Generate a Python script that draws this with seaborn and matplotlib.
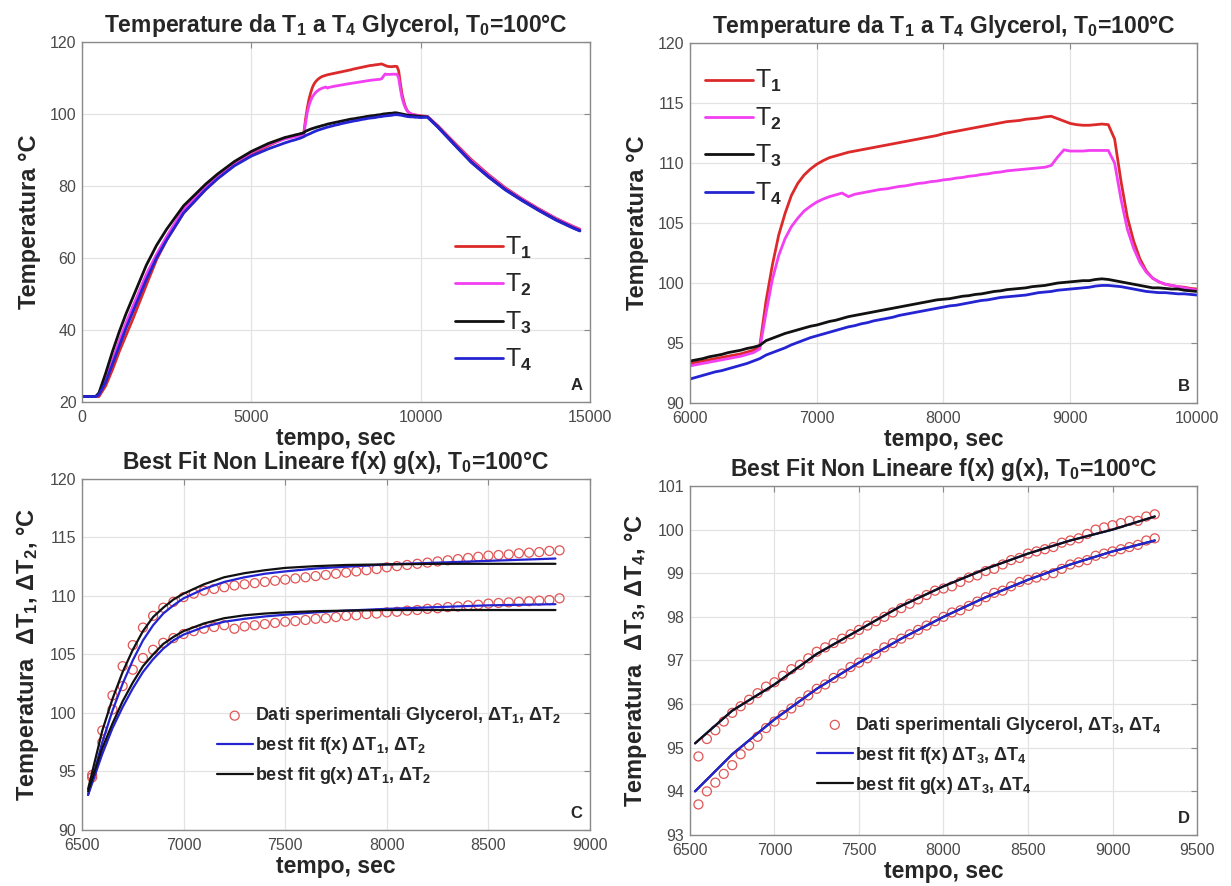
import numpy as np
import pandas as pd
import matplotlib
matplotlib.use("Agg")
import matplotlib.pyplot as plt
import seaborn as sns

# ---- data ----
# panel A: part before the 6000-10000 window and the cooling part after it
t_pre = [0, 400, 500, 700, 900, 1100, 1300, 1500, 1900, 2200, 2500, 3000, 3650, 4000, 4500, 5000, 5500]
T1_pre = [21.5, 21.5, 21.5, 24.5, 29.0, 34.0, 38.5, 43.0, 52.5, 59.5, 65.0, 72.5, 79.0, 82.0, 85.8, 88.9, 91.2]
T2_pre = [21.5, 21.5, 22.0, 26.0, 31.5, 37.0, 42.0, 46.5, 55.5, 61.0, 66.0, 73.5, 80.0, 83.0, 86.5, 89.3, 91.5]
T3_pre = [21.5, 21.5, 22.5, 28.0, 34.0, 39.5, 44.5, 49.0, 58.0, 63.5, 68.0, 74.5, 80.5, 83.3, 86.8, 89.6, 91.8]
T4_pre = [21.5, 21.5, 22.0, 25.5, 30.5, 35.5, 40.5, 45.0, 54.0, 60.0, 65.0, 72.5, 79.0, 82.0, 85.6, 88.3, 90.3]

t_post = [10200, 10500, 11000, 11500, 12000, 12500, 13000, 13500, 14000, 14500, 14700]
T1_post = [99.3, 96.8, 92.0, 87.3, 83.2, 79.5, 76.4, 73.6, 71.0, 68.8, 68.0]
T2_post = [99.3, 96.7, 91.8, 87.0, 83.0, 79.3, 76.3, 73.5, 70.9, 68.7, 67.9]
T3_post = [99.2, 96.5, 91.5, 86.6, 82.6, 79.0, 76.0, 73.2, 70.6, 68.4, 67.6]
T4_post = [99.1, 96.4, 91.4, 86.5, 82.5, 78.9, 75.9, 73.1, 70.5, 68.3, 67.5]

# window 6000-10000 sec (panel B, and the measured points of C and D)
t_win = [6000, 6050, 6100, 6150, 6200, 6250, 6300, 6350, 6400, 6450,
         6500, 6550, 6600, 6650, 6700, 6750, 6800, 6850, 6900, 6950,
         7000, 7050, 7100, 7150, 7200, 7250, 7300, 7350, 7400, 7450,
         7500, 7550, 7600, 7650, 7700, 7750, 7800, 7850, 7900, 7950,
         8000, 8050, 8100, 8150, 8200, 8250, 8300, 8350, 8400, 8450,
         8500, 8550, 8600, 8650, 8700, 8750, 8800, 8850, 8900, 8950,
         9000, 9050, 9100, 9150, 9200, 9250, 9300, 9350, 9400, 9450,
         9500, 9550, 9600, 9650, 9700, 9750, 9800, 9850, 9900, 9950, 10000]
T1_win = [93.3, 93.4, 93.5, 93.6, 93.7, 93.8, 93.9, 94.0, 94.1, 94.25,
          94.4, 94.7, 98.5, 101.5, 104.0, 105.8, 107.3, 108.3, 109.0, 109.5,
          109.9, 110.2, 110.45, 110.6, 110.75, 110.9, 111.0, 111.1, 111.2, 111.3,
          111.4, 111.5, 111.6, 111.7, 111.8, 111.9, 112.0, 112.1, 112.2, 112.3,
          112.45, 112.55, 112.65, 112.75, 112.85, 112.95, 113.05, 113.15, 113.25, 113.35,
          113.45, 113.5, 113.55, 113.65, 113.7, 113.75, 113.85, 113.9, 113.7, 113.5,
          113.3, 113.2, 113.15, 113.15, 113.2, 113.25, 113.2, 112.0, 108.5, 105.5,
          103.5, 102.0, 101.0, 100.4, 100.1, 99.9, 99.8, 99.7, 99.65, 99.55, 99.5]
T2_win = [93.1, 93.2, 93.3, 93.4, 93.5, 93.6, 93.7, 93.8, 93.9, 94.05,
          94.2, 94.5, 97.5, 100.3, 102.3, 103.7, 104.7, 105.4, 106.0, 106.4,
          106.75, 107.0, 107.2, 107.35, 107.5, 107.2, 107.4, 107.5, 107.6, 107.7,
          107.8, 107.85, 107.95, 108.05, 108.1, 108.2, 108.3, 108.35, 108.45, 108.5,
          108.6, 108.65, 108.75, 108.8, 108.9, 108.95, 109.05, 109.1, 109.2, 109.25,
          109.35, 109.4, 109.45, 109.5, 109.55, 109.6, 109.65, 109.8, 110.5, 111.1,
          111.0, 111.0, 111.0, 111.05, 111.05, 111.05, 111.05, 110.0, 107.0, 104.5,
          102.9, 101.7, 100.9, 100.4, 100.1, 99.9, 99.8, 99.7, 99.6, 99.5, 99.4]
T3_win = [93.5, 93.6, 93.7, 93.85, 93.95, 94.05, 94.2, 94.3, 94.4, 94.55,
          94.65, 94.8, 95.2, 95.4, 95.6, 95.8, 95.95, 96.1, 96.25, 96.4,
          96.5, 96.65, 96.8, 96.9, 97.05, 97.2, 97.3, 97.4, 97.5, 97.6,
          97.7, 97.8, 97.9, 98.0, 98.1, 98.2, 98.3, 98.4, 98.5, 98.6,
          98.65, 98.7, 98.8, 98.9, 98.95, 99.05, 99.1, 99.2, 99.3, 99.35,
          99.45, 99.5, 99.55, 99.6, 99.7, 99.75, 99.8, 99.9, 100.0, 100.05,
          100.1, 100.15, 100.2, 100.2, 100.3, 100.35, 100.3, 100.2, 100.1, 100.0,
          99.9, 99.8, 99.7, 99.6, 99.6, 99.55, 99.5, 99.5, 99.4, 99.35, 99.3]
T4_win = [92.0, 92.15, 92.3, 92.45, 92.6, 92.7, 92.85, 93.0, 93.15, 93.3,
          93.5, 93.7, 94.0, 94.2, 94.4, 94.6, 94.85, 95.05, 95.25, 95.45,
          95.6, 95.75, 95.9, 96.05, 96.2, 96.35, 96.45, 96.6, 96.7, 96.85,
          96.95, 97.05, 97.15, 97.3, 97.4, 97.5, 97.6, 97.7, 97.8, 97.9,
          98.0, 98.1, 98.15, 98.25, 98.35, 98.45, 98.55, 98.6, 98.7, 98.8,
          98.85, 98.9, 98.95, 99.0, 99.1, 99.2, 99.25, 99.3, 99.4, 99.45,
          99.5, 99.55, 99.6, 99.65, 99.75, 99.8, 99.8, 99.75, 99.7, 99.6,
          99.5, 99.4, 99.3, 99.25, 99.2, 99.2, 99.15, 99.1, 99.1, 99.05, 99.0]

# nonlinear fits, panel C (T1 upper, T2 lower)
t_fitC = [6530, 6600, 6650, 6700, 6750, 6800, 6850, 6900, 6950, 7000, 7100,
          7200, 7300, 7400, 7500, 7650, 7800, 8000, 8250, 8500, 8830]
f_T1 = [93.0, 97.5, 100.2, 102.5, 104.5, 106.2, 107.5, 108.5, 109.2, 109.8, 110.6,
        111.2, 111.6, 111.9, 112.1, 112.35, 112.5, 112.7, 112.85, 113.0, 113.2]
g_T1 = [93.5, 98.5, 101.2, 103.5, 105.4, 107.0, 108.2, 109.0, 109.7, 110.2, 111.0,
        111.6, 111.95, 112.2, 112.4, 112.55, 112.65, 112.7, 112.75, 112.75, 112.75]
f_T2 = [93.0, 96.5, 98.7, 100.5, 102.1, 103.5, 104.6, 105.5, 106.2, 106.7, 107.35,
        107.8, 108.05, 108.25, 108.4, 108.6, 108.75, 108.9, 109.05, 109.2, 109.3]
g_T2 = [93.3, 97.0, 99.1, 101.0, 102.6, 104.0, 105.0, 105.9, 106.5, 107.0, 107.65,
        108.1, 108.35, 108.5, 108.6, 108.7, 108.75, 108.8, 108.8, 108.8, 108.8]

# nonlinear fits, panel D (T3 upper, T4 lower)
t_fitD = [6530, 6750, 7000, 7250, 7500, 7750, 8000, 8250, 8500, 8750, 9000, 9250]
fit_T3 = [95.1, 95.85, 96.45, 97.15, 97.7, 98.25, 98.7, 99.1, 99.45, 99.75, 100.0, 100.3]
fit_T4 = [94.0, 94.85, 95.65, 96.35, 96.95, 97.5, 98.0, 98.45, 98.85, 99.2, 99.5, 99.75]

RED = "#dc2a2a"
MAG = "#f23ff2"
BLK = "#111111"
BLU = "#2424d2"
PTS = "#e05555"
GRAY = "#4a4a4a"

sns.set_style("whitegrid")
plt.rcParams["font.family"] = ["Liberation Sans", "DejaVu Sans"]
plt.rcParams["mathtext.fontset"] = "custom"
plt.rcParams["mathtext.rm"] = "Liberation Sans"
plt.rcParams["mathtext.bf"] = "Liberation Sans:bold"
plt.rcParams["mathtext.default"] = "rm"

full = pd.DataFrame({
    "t": t_pre + t_win + t_post,
    "T1": T1_pre + T1_win + T1_post,
    "T2": T2_pre + T2_win + T2_post,
    "T3": T3_pre + T3_win + T3_post,
    "T4": T4_pre + T4_win + T4_post,
})
win = pd.DataFrame({"t": t_win, "T1": T1_win, "T2": T2_win, "T3": T3_win, "T4": T4_win})
datC = win[(win.t >= 6530) & (win.t <= 8850)]
datD = win[(win.t >= 6530) & (win.t <= 9250)]

fig = plt.figure(figsize=(12.31, 8.86), dpi=100)
axA = fig.add_axes([0.0666, 0.5463, 0.4127, 0.4063])
axB = fig.add_axes([0.5605, 0.5451, 0.4119, 0.4063])
axC = fig.add_axes([0.0666, 0.0632, 0.4127, 0.3962])
axD = fig.add_axes([0.5605, 0.0576, 0.4119, 0.3939])


def style(ax, letter, xl, yl, xt, yt, title):
    ax.set_xlim(xl)
    ax.set_ylim(yl)
    ax.set_xticks(xt)
    ax.set_yticks(yt)
    ax.grid(True, color="#e3e3e3", linewidth=0.9)
    for s in ax.spines.values():
        s.set_color("#8a8a8a")
        s.set_linewidth(1.0)
    ax.tick_params(direction="in", length=4, color="#8a8a8a", labelcolor=GRAY,
                   labelsize=11.5, top=True, right=True)
    ax.tick_params(axis="x", pad=6)
    ax.tick_params(axis="y", pad=4)
    ax.set_xlabel("tempo, sec", fontsize=16.5, fontweight="bold", labelpad=1)
    ax.set_title(title, fontsize=16.5, fontweight="bold", pad=7)
    ax.text(0.985, 0.025, letter, transform=ax.transAxes, ha="right", va="bottom",
            fontsize=12, fontweight="bold")


title_AB = r"Temperature da T$_\mathbf{1}$ a T$_\mathbf{4}$ Glycerol, T$_\mathbf{0}$=100°C"
title_CD = r"Best Fit Non Lineare f(x) g(x), T$_\mathbf{0}$=100°C"
sub = r"$_\mathbf{%d}$"
big_leg = dict(frameon=False, fontsize=18, handlelength=1.9, handletextpad=0.1,
               labelspacing=0.45, borderpad=0.0, borderaxespad=0.0)
fit_leg = dict(frameon=False, prop={"size": 13, "weight": "bold"}, handlelength=2.0,
               handletextpad=0.1, labelspacing=0.5, borderpad=0.0, borderaxespad=0.0)

# --- A ---
for col, c in zip(["T1", "T2", "T3", "T4"], [RED, MAG, BLK, BLU]):
    sns.lineplot(data=full, x="t", y=col, ax=axA, color=c, linewidth=2.0,
                 estimator=None, sort=False, label="T" + sub % int(col[1]))
style(axA, "A", (0, 15000), (20, 120), [0, 5000, 10000, 15000], range(20, 121, 20), title_AB)
axA.set_ylabel("Temperatura °C", fontsize=17, fontweight="bold", labelpad=6)
axA.legend(loc="upper left", bbox_to_anchor=(0.735, 0.465), **big_leg)

# --- B ---
for col, c in zip(["T1", "T2", "T3", "T4"], [RED, MAG, BLK, BLU]):
    sns.lineplot(data=win, x="t", y=col, ax=axB, color=c, linewidth=2.0,
                 estimator=None, sort=False, label="T" + sub % int(col[1]))
style(axB, "B", (6000, 10000), (90, 120), range(6000, 10001, 1000), range(90, 121, 5), title_AB)
axB.set_ylabel("Temperatura °C", fontsize=17, fontweight="bold", labelpad=6)
axB.legend(loc="upper left", bbox_to_anchor=(0.03, 0.93), **big_leg)

# --- C ---
lab_pts = r"Dati sperimentali Glycerol, ΔT$_\mathbf{1}$, ΔT$_\mathbf{2}$"
sns.scatterplot(x=datC.t, y=datC.T1, ax=axC, marker="o", s=42, facecolor="none",
                edgecolor=PTS, linewidth=0.9, label=lab_pts)
sns.scatterplot(x=datC.t, y=datC.T2, ax=axC, marker="o", s=42, facecolor="none",
                edgecolor=PTS, linewidth=0.9)
sns.lineplot(x=t_fitC, y=f_T1, ax=axC, color=BLU, linewidth=1.6,
             label=r"best fit f(x) ΔT$_\mathbf{1}$, ΔT$_\mathbf{2}$")
sns.lineplot(x=t_fitC, y=g_T1, ax=axC, color=BLK, linewidth=1.6,
             label=r"best fit g(x) ΔT$_\mathbf{1}$, ΔT$_\mathbf{2}$")
sns.lineplot(x=t_fitC, y=f_T2, ax=axC, color=BLU, linewidth=1.6)
sns.lineplot(x=t_fitC, y=g_T2, ax=axC, color=BLK, linewidth=1.6)
style(axC, "C", (6500, 9000), (90, 120), range(6500, 9001, 500), range(90, 121, 5), title_CD)
axC.set_ylabel(r"Temperatura  ΔT$_\mathbf{1}$, ΔT$_\mathbf{2}$, °C", fontsize=17,
               fontweight="bold", labelpad=6)
axC.legend(loc="upper left", bbox_to_anchor=(0.265, 0.355), **fit_leg)

# --- D ---
lab_pts = r"Dati sperimentali Glycerol, ΔT$_\mathbf{3}$, ΔT$_\mathbf{4}$"
sns.scatterplot(x=datD.t, y=datD.T3, ax=axD, marker="o", s=42, facecolor="none",
                edgecolor=PTS, linewidth=0.9, label=lab_pts)
sns.scatterplot(x=datD.t, y=datD.T4, ax=axD, marker="o", s=42, facecolor="none",
                edgecolor=PTS, linewidth=0.9)
sns.lineplot(x=t_fitD, y=fit_T3, ax=axD, color=BLU, linewidth=1.6)
sns.lineplot(x=t_fitD, y=fit_T4, ax=axD, color=BLK, linewidth=1.6)
sns.lineplot(x=t_fitD, y=fit_T4, ax=axD, color=BLU, linewidth=1.6,
             label=r"best fit f(x) ΔT$_\mathbf{3}$, ΔT$_\mathbf{4}$")
sns.lineplot(x=t_fitD, y=fit_T3, ax=axD, color=BLK, linewidth=1.6,
             label=r"best fit g(x) ΔT$_\mathbf{3}$, ΔT$_\mathbf{4}$")
style(axD, "D", (6500, 9500), (93, 101), range(6500, 9501, 500), range(93, 102, 1), title_CD)
axD.set_ylabel(r"Temperatura  ΔT$_\mathbf{3}$, ΔT$_\mathbf{4}$, °C", fontsize=17,
               fontweight="bold", labelpad=6)
axD.legend(loc="upper left", bbox_to_anchor=(0.25, 0.345), **fit_leg)

fig.savefig("out.png", dpi=100)
